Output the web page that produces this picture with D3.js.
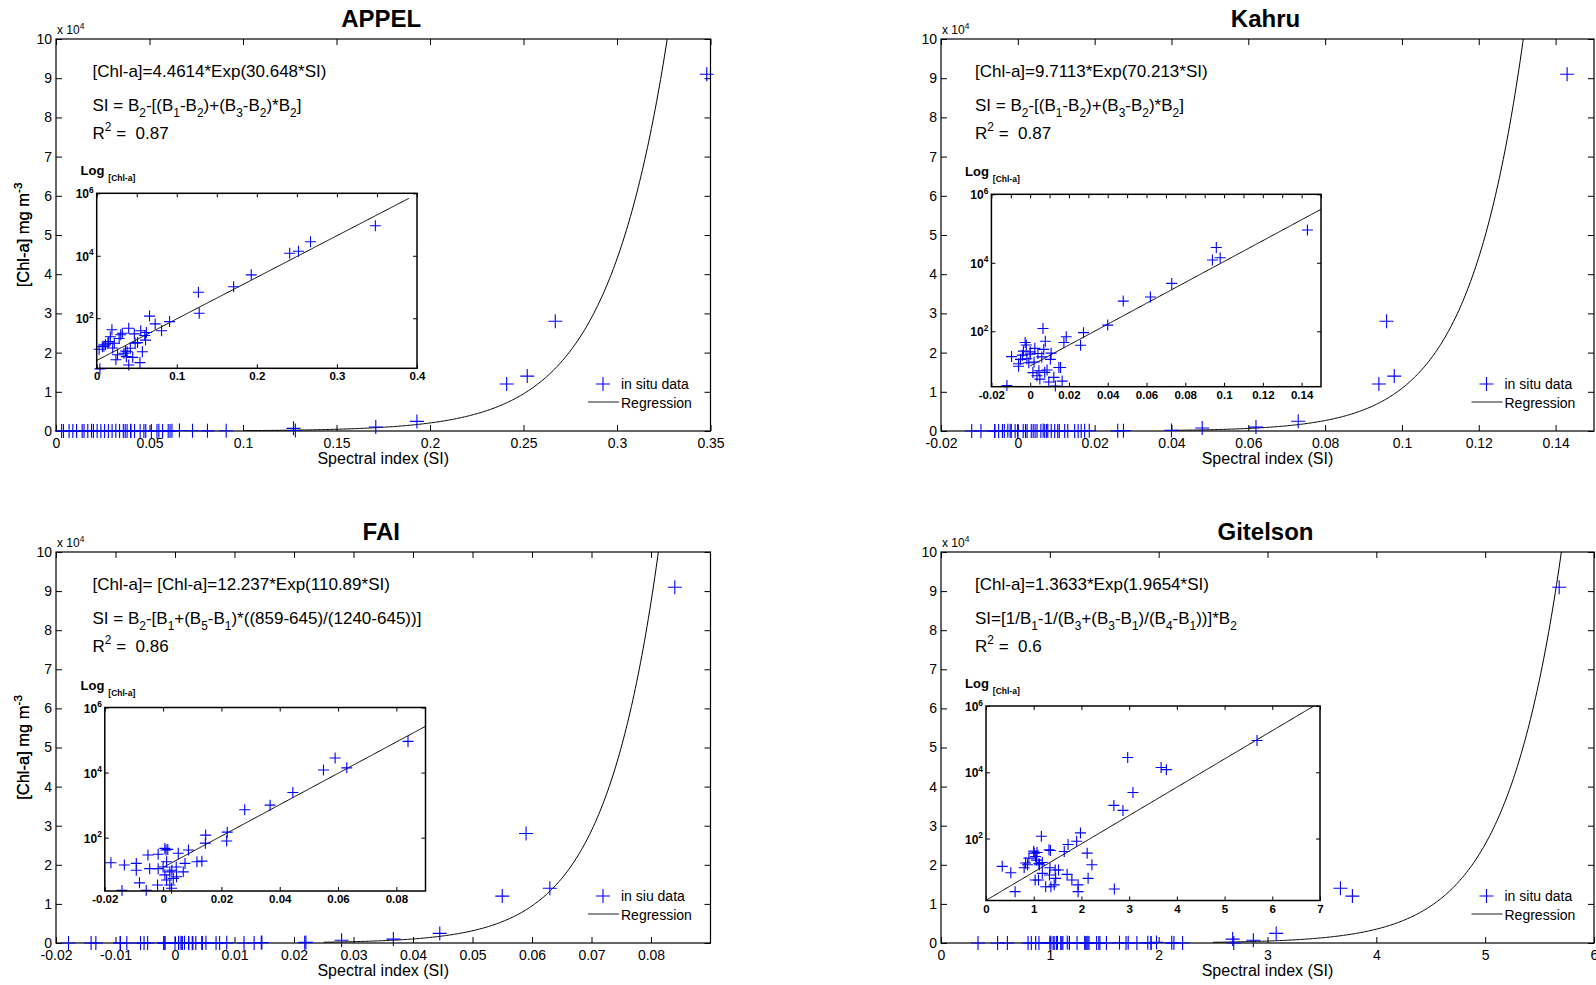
<!DOCTYPE html>
<html>
<head>
<meta charset="utf-8">
<script src="https://cdn.jsdelivr.net/npm/d3@7"></script>
<style>
body { margin: 0; background: #fff; }
svg { display: block; }
text { font-family: Arial, "Liberation Sans", sans-serif; fill: #000; white-space: pre; }
</style>
</head>
<body>
<svg id="chart" width="1596" height="985"></svg>
<script>
// ---- chart text ----
let titles = ["APPEL", "Kahru", "FAI", "Gitelson"];
let equations = [
    "[Chl-a]=4.4614*Exp(30.648*SI)",
    "[Chl-a]=9.7113*Exp(70.213*SI)",
    "[Chl-a]= [Chl-a]=12.237*Exp(110.89*SI)",
    "[Chl-a]=1.3633*Exp(1.9654*SI)"
];
let indexFormulas = [
    "SI = B_2-[(B_1-B_2)+(B_3-B_2)*B_2]",
    "SI = B_2-[(B_1-B_2)+(B_3-B_2)*B_2]",
    "SI = B_2-[B_1+(B_5-B_1)*((859-645)/(1240-645))]",
    "SI=[1/B_1-1/(B_3+(B_3-B_1)/(B_4-B_1))]*B_2"
];
let r2Values = ["0.87", "0.87", "0.86", "0.6"];
let pointLabels = ["in situ data", "in situ data", "in siu data", "in situ data"];
let lineLabel = "Regression";

// regression coefficients  [Chl-a] = a * exp(b * SI)
let coefA = [4.4614, 9.7113, 12.237, 1.3633];
let coefB = [30.648, 70.213, 110.89, 1.9654];

// ---- in situ data (SI, Chl-a mg m-3) ----
let appelSI  = [0.348, 0.267, 0.252, 0.241, 0.193, 0.171, 0.127, 0.128, 0.091, 0.081, 0.073, 0.066, 0.062, 0.061, 0.055,
                0.057, 0.054, 0.051, 0.048, 0.040, 0.038, 0.037, 0.040, 0.034, 0.042, 0.032, 0.030, 0.026, 0.024, 0.022,
                0.019, 0.017, 0.015, 0.014, 0.011, 0.007, 0.003, 0.004, 0.047, 0.036, 0.045, 0.028, 0.020, 0.060, 0.009];
let appelChl = [91000, 28000, 14000, 12000, 2450, 1020, 680, 145, 78, 40, 66, 117, 35, 20, 40,
                8.5, 3.8, 16.6, 15.8, 48, 8.5, 5.9, 3.2, 7.6, 11, 33, 29.5, 6.8, 4.7, 15.8,
                42.7, 25.7, 17.8, 15.8, 14.1, 12.3, 10.2, 2.4, 31.6, 8.9, 5.6, 22.4, 11.2, 28.2, 12.6];

let kahruSI  = [0.143, 0.096, 0.098, 0.094, 0.073, 0.062, 0.048, 0.040, 0.0275, 0.026, 0.0186, 0.0174, 0.0066, 0.0078, 0.007,
                -0.0026, -0.0035, -0.0096, -0.006, -0.012, 0.0014, 0.0035, 0.0087, 0.0122, 0.0157, 0.0165, 0.013, 0.0104, 0.0108, 0.004,
                0.0, -0.0017, -0.005, -0.006, 0.0024, -0.002, 0.0045, 0.005, 0.0075, -0.0007, 0.0096, 0.0148, 0.0, -0.004, 0.006, 0.002];
let kahruChl = [91000, 28000, 14000, 12000, 2500, 1000, 760, 151, 91, 39, 69, 47, 120, 51, 29.5,
                47, 26.3, 18.2, 9.5, 2.6, 6.2, 5.0, 7.4, 4.5, 8.7, 3.5, 2.5, 15.1, 22.9, 22.4,
                25, 15.8, 15.1, 11.2, 31.6, 39.8, 7.0, 4.0, 6.3, 12, 3.3, 8.7, 21.4, 20, 17.8, 12.6];

let faiSI  = [0.084, 0.059, 0.063, 0.055, 0.0445, 0.0367, 0.028, 0.022, 0.0218, 0.0146, 0.0145, 0.0133, 0.0116, 0.0087, 0.0075,
              0.0069, 0.0052, 0.0046, 0.0035, 0.0029, 0.0023, 0.0023, 0.0012, 0.0006, 0.0012, 0.0006, 0.0016, 0.001, -0.0017, -0.0017,
              -0.0019, -0.0046, -0.0052, -0.0058, -0.0081, -0.0092, -0.0092, -0.0133, -0.0141, -0.0179, 0.0, 0.003, 0.0045];
let faiChl = [91000, 28000, 14000, 12000, 2450, 1000, 720, 148, 79, 120, 68, 19, 18.2, 41.7, 16.2,
              8.9, 33.1, 6.3, 5.6, 2.8, 3.5, 8.9, 5.0, 7.2, 18.2, 46.8, 43.7, 41.7, 30.9, 11.2,
              3.5, 11.2, 29.5, 2.4, 4.1, 10, 16.2, 14.5, 2.4, 17, 12.6, 10, 12.6];

let gitelsonSI  = [5.68, 2.97, 3.67, 3.78, 3.08, 2.68, 2.87, 1.98, 1.90, 1.72, 1.16, 1.64, 2.12, 2.22, 2.14,
                   1.93, 1.93, 1.80, 1.70, 1.52, 1.46, 1.43, 1.32, 1.35, 1.34, 1.33, 1.25, 1.36, 1.18, 1.11,
                   1.04, 1.00, 1.07, 1.03, 1.10, 0.90, 0.83, 0.80, 0.87, 1.18, 1.06, 0.34, 0.52, 0.61, 2.69, 1.01, 1.12, 1.45];
let gitelsonChl = [91000, 28000, 14000, 12000, 2450, 1000, 708, 148, 83, 66, 117, 40.7, 36.3, 16.2, 6.3,
                   4.0, 2.5, 5.6, 8.3, 11.2, 6.3, 4.0, 45.7, 43.7, 13.2, 7.9, 3.5, 3.5, 19, 17.8,
                   28.8, 41.7, 38, 5.6, 5.6, 25.7, 18.2, 13.2, 16.2, 8.9, 22.4, 14.5, 9.3, 2.5, 3.0, 36.3, 16.2, 11.2];

let siData = [appelSI, kahruSI, faiSI, gitelsonSI];
let chlData = [appelChl, kahruChl, faiChl, gitelsonChl];

// ---- ticks ----
let mainYTicks = [0, 1, 2, 3, 4, 5, 6, 7, 8, 9, 10];
let mainXTicks = [
    [0, 0.05, 0.1, 0.15, 0.2, 0.25, 0.3, 0.35],
    [-0.02, 0, 0.02, 0.04, 0.06, 0.08, 0.1, 0.12, 0.14],
    [-0.02, -0.01, 0, 0.01, 0.02, 0.03, 0.04, 0.05, 0.06, 0.07, 0.08],
    [0, 1, 2, 3, 4, 5, 6]
];
let insetXTicks = [
    [0, 0.1, 0.2, 0.3, 0.4],
    [-0.02, 0, 0.02, 0.04, 0.06, 0.08, 0.1, 0.12, 0.14],
    [-0.02, 0, 0.02, 0.04, 0.06, 0.08],
    [0, 1, 2, 3, 4, 5, 6, 7]
];
let insetTopTicks = [
    [0, 0.05, 0.1, 0.15, 0.2, 0.25, 0.3, 0.35, 0.4],
    [-0.02, -0.01, 0, 0.01, 0.02, 0.03, 0.04, 0.05, 0.06, 0.07, 0.08, 0.09, 0.1, 0.11, 0.12, 0.13, 0.14, 0.15],
    [-0.02, 0, 0.02, 0.04, 0.06, 0.08],
    [0, 1, 2, 3, 4, 5, 6, 7]
];
let insetYTicks = [1e2, 1e4, 1e6];

// ---- layout ----
let layout = [
    {left: 56, right: 710.5, top: 39, bottom: 431, xDomain: [0, 0.35], curveStart: 0.1, textX: 92.5,
     inset: {left: 96.7, right: 417, top: 193.3, bottom: 368.3, xDomain: [0, 0.4], yMin: 2.5, lineEnd: 0.39, logX: 80.5}},
    {left: 941, right: 1594, top: 39, bottom: 431, xDomain: [-0.02, 0.15], curveStart: 0.04, textX: 975,
     inset: {left: 991.4, right: 1321, top: 194.3, bottom: 386.7, xDomain: [-0.02, 0.15], yMin: 2.4, lineEnd: 0.15, logX: 965}},
    {left: 56, right: 710.5, top: 552, bottom: 943, xDomain: [-0.02, 0.09], curveStart: 0.025, textX: 92.5,
     inset: {left: 104.8, right: 425.5, top: 707.5, bottom: 891, xDomain: [-0.02, 0.09], yMin: 2.3, lineEnd: 0.09, logX: 80.5}},
    {left: 941, right: 1594, top: 552, bottom: 943, xDomain: [0, 6], curveStart: 2.5, textX: 975,
     inset: {left: 986, right: 1320, top: 706, bottom: 900.5, xDomain: [0, 7], yMin: 1.35, lineEnd: 7, logX: 965}}
];

let svg = d3.select("#chart");
let blue = "#0000ff";

function fmt(d) { return String(+d.toFixed(3)); }

// "_x" subscript, "^x" superscript, braces group several characters
function parse(str) {
    let segs = [], cur = "";
    for (let i = 0; i < str.length; i++) {
        let c = str[i];
        if (c === "_" || c === "^") {
            if (cur) { segs.push({t: cur, m: "n"}); cur = ""; }
            let t;
            if (str[i + 1] === "{") {
                let j = str.indexOf("}", i);
                t = str.slice(i + 2, j);
                i = j;
            } else {
                t = str[i + 1];
                i++;
            }
            segs.push({t: t, m: c === "_" ? "sub" : "sup"});
        } else {
            cur += c;
        }
    }
    if (cur) segs.push({t: cur, m: "n"});
    return segs;
}

function rich(g, x, y, str, size, weight, anchor) {
    let t = g.append("text").attr("x", x).attr("y", y)
        .attr("font-size", size).attr("font-weight", weight || "normal")
        .attr("text-anchor", anchor || "start");
    let off = 0;
    parse(str).forEach(s => {
        let ts = t.append("tspan").text(s.t);
        let target = s.m === "sub" ? size * 0.33 : (s.m === "sup" ? -size * 0.45 : 0);
        if (target !== off) { ts.attr("dy", target - off); off = target; }
        if (s.m !== "n") ts.attr("font-size", size * 0.7);
    });
    return t;
}

function plus(px, py, r) {
    return "M" + (px - r) + "," + py + "h" + (2 * r) + "M" + px + "," + (py - r) + "v" + (2 * r);
}

function styleAxis(a, size, weight) {
    a.select(".domain").remove();
    a.attr("font-family", null).attr("font-size", size).attr("font-weight", weight || "normal");
    a.selectAll("line").attr("stroke", "#000");
    a.selectAll("text").attr("fill", "#000");
}

function drawPanel(i) {
    let L = layout[i];
    let si = siData[i], chl = chlData[i];
    let g = svg.append("g");

    let x = d3.scaleLinear().domain(L.xDomain).range([L.left, L.right]);
    let y = d3.scaleLinear().domain([0, 1e5]).range([L.bottom, L.top]);

    let cid = "clip" + i;
    svg.append("clipPath").attr("id", cid).append("rect")
        .attr("x", L.left).attr("y", L.top).attr("width", L.right - L.left).attr("height", L.bottom - L.top);

    // title
    g.append("text").attr("x", (L.left + L.right) / 2 - 2).attr("y", L.top - 12)
        .attr("text-anchor", "middle").attr("font-size", 24).attr("font-weight", "bold").text(titles[i]);

    // regression curve
    let step = (L.xDomain[1] - L.xDomain[0]) / 500;
    let xs = d3.range(L.curveStart, L.xDomain[1], step).concat([L.xDomain[1]]);
    g.append("path").attr("clip-path", "url(#" + cid + ")")
        .attr("d", d3.line().x(d => x(d)).y(d => y(coefA[i] * Math.exp(coefB[i] * d)))(xs))
        .attr("fill", "none").attr("stroke", "#000").attr("stroke-width", 1);

    // box
    g.append("rect").attr("x", L.left).attr("y", L.top)
        .attr("width", L.right - L.left).attr("height", L.bottom - L.top)
        .attr("fill", "none").attr("stroke", "#000").attr("stroke-width", 1.2);

    // axes (MATLAB-like inward ticks)
    g.append("g").attr("transform", "translate(0," + L.bottom + ")")
        .call(d3.axisBottom(x).tickValues(mainXTicks[i]).tickSize(-6).tickSizeOuter(0).tickPadding(7).tickFormat(fmt))
        .call(a => styleAxis(a, 14));
    g.append("g").attr("transform", "translate(0," + L.top + ")")
        .call(d3.axisTop(x).tickValues(mainXTicks[i]).tickSize(-6).tickSizeOuter(0).tickFormat(""))
        .call(a => styleAxis(a, 14));
    g.append("g").attr("transform", "translate(" + L.left + ",0)")
        .call(d3.axisLeft(y).tickValues(mainYTicks.map(v => v * 1e4)).tickSize(-6).tickSizeOuter(0).tickPadding(4).tickFormat(d => d / 1e4))
        .call(a => styleAxis(a, 14));
    g.append("g").attr("transform", "translate(" + L.right + ",0)")
        .call(d3.axisRight(y).tickValues(mainYTicks.map(v => v * 1e4)).tickSize(-6).tickSizeOuter(0).tickFormat(""))
        .call(a => styleAxis(a, 14));

    rich(g, L.left + 1, L.top - 5, "x 10^4", 12);

    // labels
    g.append("text").attr("x", (L.left + L.right) / 2).attr("y", L.bottom + 33)
        .attr("text-anchor", "middle").attr("font-size", 16).text("Spectral index (SI)");
    rich(g, 0, 0, "[Chl-a] mg m^{-3}", 16.5, "normal", "middle")
        .attr("transform", "translate(29," + ((L.top + L.bottom) / 2) + ") rotate(-90)");

    // annotations
    rich(g, L.textX, L.top + 38, equations[i], 17);
    rich(g, L.textX, L.top + 72, indexFormulas[i], 17);
    rich(g, L.textX, L.top + 100, "R^2 =  " + r2Values[i], 17);

    // data points
    g.append("g").selectAll("path").data(si).enter().append("path")
        .attr("d", (d, k) => plus(x(d), y(chl[k]), 7))
        .attr("fill", "none").attr("stroke", blue).attr("stroke-width", 1.1);

    // legend
    g.append("path").attr("d", plus(L.right - 107.5, L.bottom - 47, 7))
        .attr("fill", "none").attr("stroke", blue).attr("stroke-width", 1.1);
    g.append("text").attr("x", L.right - 89.5).attr("y", L.bottom - 42).attr("font-size", 14).text(pointLabels[i]);
    g.append("line").attr("x1", L.right - 122.5).attr("x2", L.right - 91.5)
        .attr("y1", L.bottom - 29).attr("y2", L.bottom - 29).attr("stroke", "#222").attr("stroke-width", 1);
    g.append("text").attr("x", L.right - 89.5).attr("y", L.bottom - 23).attr("font-size", 14).text(lineLabel);

    drawInset(g, i);
}

function drawInset(g, i) {
    let I = layout[i].inset;
    let si = siData[i], chl = chlData[i];
    let ix = d3.scaleLinear().domain(I.xDomain).range([I.left, I.right]);
    let iy = d3.scaleLog().domain([I.yMin, 1e6]).range([I.bottom, I.top]);

    let cid = "iclip" + i;
    svg.append("clipPath").attr("id", cid).append("rect")
        .attr("x", I.left).attr("y", I.top).attr("width", I.right - I.left).attr("height", I.bottom - I.top);

    g.append("rect").attr("x", I.left).attr("y", I.top)
        .attr("width", I.right - I.left).attr("height", I.bottom - I.top).attr("fill", "#fff");

    let xs = d3.range(0, I.lineEnd, (I.xDomain[1] - I.xDomain[0]) / 300).concat([I.lineEnd]);
    g.append("path").attr("clip-path", "url(#" + cid + ")")
        .attr("d", d3.line().x(d => ix(d)).y(d => iy(coefA[i] * Math.exp(coefB[i] * d)))(xs))
        .attr("fill", "none").attr("stroke", "#000").attr("stroke-width", 1);

    g.append("g").selectAll("path").data(si).enter().append("path")
        .attr("d", (d, k) => plus(ix(d), iy(chl[k]), 5.5))
        .attr("fill", "none").attr("stroke", blue).attr("stroke-width", 1.1);

    g.append("rect").attr("x", I.left).attr("y", I.top)
        .attr("width", I.right - I.left).attr("height", I.bottom - I.top)
        .attr("fill", "none").attr("stroke", "#000").attr("stroke-width", 1.5);

    g.append("g").attr("transform", "translate(0," + I.bottom + ")")
        .call(d3.axisBottom(ix).tickValues(insetXTicks[i]).tickSize(-4).tickSizeOuter(0).tickPadding(4).tickFormat(fmt))
        .call(a => styleAxis(a, 11.5, "bold"));
    g.append("g").attr("transform", "translate(0," + I.top + ")")
        .call(d3.axisTop(ix).tickValues(insetTopTicks[i]).tickSize(-4).tickSizeOuter(0).tickFormat(""))
        .call(a => styleAxis(a, 11.5));
    g.append("g").attr("transform", "translate(" + I.left + ",0)")
        .call(d3.axisLeft(iy).tickValues(insetYTicks).tickSize(-4).tickSizeOuter(0).tickFormat(""))
        .call(a => styleAxis(a, 11.5));
    g.append("g").attr("transform", "translate(" + I.right + ",0)")
        .call(d3.axisRight(iy).tickValues(insetYTicks).tickSize(-4).tickSizeOuter(0).tickFormat(""))
        .call(a => styleAxis(a, 11.5));

    insetYTicks.forEach(v => {
        rich(g, I.left - 3, iy(v) + 5, "10^" + Math.round(Math.log10(v)), 12, "bold", "end");
    });

    let lab = g.append("text").attr("x", I.logX).attr("y", I.top - 18)
        .attr("font-size", 13).attr("font-weight", "bold");
    lab.append("tspan").text("Log");
    lab.append("tspan").attr("dx", 4).attr("dy", 6).attr("font-size", 8.5).text("[Chl-a]");
}

for (let i = 0; i < 4; i++) drawPanel(i);
</script>
</body>
</html>
